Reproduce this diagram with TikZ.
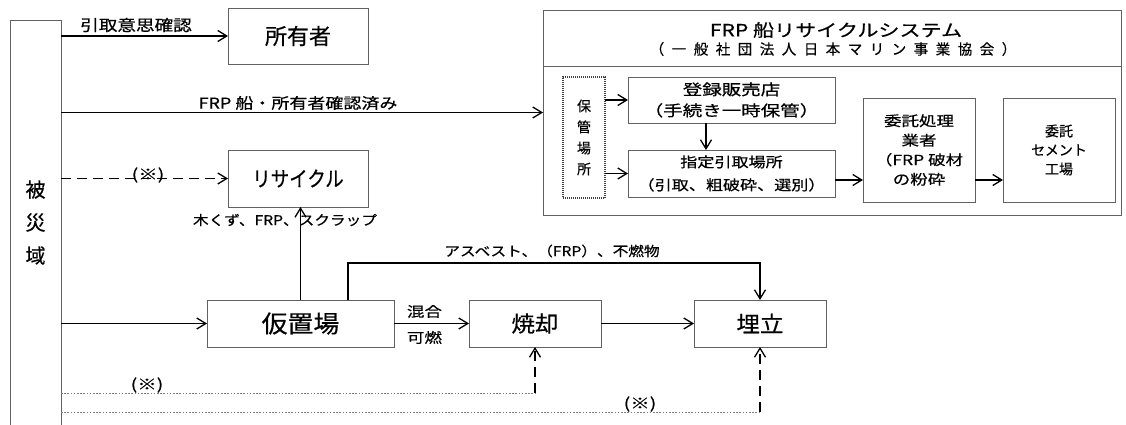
\documentclass[tikz,border=0pt]{standalone}
\usepackage{fontspec}
\usepackage{graphicx}
\newfontfamily\jp[FakeBold=0.5]{Noto Sans CJK JP}
\usetikzlibrary{arrows.meta,calc}
\newcommand\hx[2]{\scalebox{#1}[1]{#2}}
\newcommand\fs[2]{\jp\fontsize{#1}{#2}\selectfont}
\def\spaced#1{\spacedi#1\relax\kern-7.5pt}
\def\spacedi#1{\ifx#1\relax\else#1\kern7.5pt\expandafter\spacedi\fi}
\begin{document}
\begin{tikzpicture}[x=1pt,y=-1pt,
  box/.style={draw=black!62, line width=0.9pt, inner sep=0pt, outer sep=0pt, align=center},
  edge/.style={draw=black!62, line width=0.9pt},
  arr/.style={draw=black, line width=1.3pt, -{Straight Barb[length=9pt,width=11pt,line width=1.3pt]}},
  dasharr/.style={arr, dash pattern=on 10pt off 6pt},
  dotline/.style={draw=black!50, line width=0.8pt, dash pattern=on 1.6pt off 1.6pt},
  lbl/.style={inner sep=0pt, outer sep=0pt, align=center}]
\useasboundingbox (0,0) rectangle (1126,425);

% left region
\node[lbl, minimum width=51, minimum height=405, font={\fs{20}{33}}] (hisai) at (35.5,222.5) {被\\災\\域};
\draw[edge] (hisai.south west) -- (hisai.north west) -- (hisai.north east) -- (hisai.south east);

% main boxes
\node[box, minimum width=140, minimum height=56, font={\fs{22}{26}}] (owner) at (298,36) {所有者};
\node[box, minimum width=140, minimum height=57, font={\fs{21}{26}}] (recycle) at (298,178.5) {\hx{0.88}{リサイクル}};
\node[box, minimum width=187, minimum height=47, font={\fs{24}{28}}] (kari) at (300.5,323.5) {\hx{1.08}{仮置場}};
\node[box, minimum width=132, minimum height=47, font={\fs{22}{26}}] (shou) at (535,323.5) {\hx{1.07}{焼却}};
\node[box, minimum width=132, minimum height=47, font={\fs{22}{26}}] (ume) at (760,323.5) {\hx{1.07}{埋立}};

% system box
\node[box, minimum width=578, minimum height=205] (sys) at (832,112.5) {};
\coordinate (sepy) at (0,66);
\draw[edge] (sys.west |- sepy) -- (sys.east |- sepy);
\node[lbl, font={\fs{17}{20}}] (systitle) at (836,30) {\hx{1.24}{FRP 船リサイクルシステム}};
\node[lbl, font={\fs{14.5}{18}}] (syssub) at (833,49) {\spaced{（一般社団法人日本マリン事業協会）}};

\node[box, draw=black!75, dash pattern=on 1pt off 1pt, line width=1.3pt, minimum width=42, minimum height=121, font={\fs{14}{21}}] (hokan) at (584,137.5) {保\\管\\場\\所};
\node[box, minimum width=207, minimum height=46, font={\fs{15}{21}}] (touroku) at (731.5,100) {\hx{1.3}{登録販売店}\\\hx{1.3}{（手続き一時保管）}};
\node[box, minimum width=207, minimum height=47, font={\fs{14}{23}}] (shitei) at (731.5,173.5) {\hx{1.22}{指定引取場所}\\\hx{1.22}{（引取、粗破砕、選別）}};
\node[box, minimum width=112, minimum height=104, font={\fs{14}{19.5}}] (itaku) at (919,150) {\hx{1.25}{委託処理}\\\hx{1.25}{業者}\\\hx{1.25}{（FRP 破材}\\\hx{1.25}{の粉砕}};
\node[box, minimum width=112, minimum height=104, font={\fs{14}{19}}] (cement) at (1059,150) {委託\\セメント\\工場};

% connectors
\draw[arr] (hisai.east |- owner.west) -- (owner.west);
\draw[arr] (hisai.east |- sys.west) -- (sys.west);
\draw[dasharr] (hisai.east |- recycle.west) -- (recycle.west);
\draw[arr] (hisai.east |- kari.west) -- (kari.west);
\draw[arr] (kari.north) -- (kari.north |- recycle.south);
\coordinate (asb) at (348,263);
\draw[arr] (kari.north -| asb) -- (asb) -| (ume.north);
\draw[arr] (kari.east) -- (shou.west);
\draw[arr] (shou.east) -- (ume.west);
\coordinate (d1) at (535,393);
\coordinate (d2) at (760,412);
\draw[dotline] (hisai.east |- d1) -- (d1);
\draw[dasharr] (d1) -- (shou.south);
\draw[dotline] (hisai.east |- d2) -- (d2);
\draw[dasharr] (d2) -- (ume.south);

\draw[arr] (hokan.east |- touroku.west) -- (touroku.west);
\draw[arr] (hokan.east |- shitei.west) -- (shitei.west);
\draw[arr] ([xshift=-25.5pt]touroku.south) -- ([xshift=-25.5pt]shitei.north);
\coordinate (s1) at ([yshift=-6.5pt]shitei.east);
\draw[arr] (s1) -- (s1 -| itaku.west);
\coordinate (s2) at ([yshift=-30pt]itaku.east);
\draw[arr] (s2) -- (s2 -| cement.west);

% labels
\node[lbl, font={\fs{15.5}{18}}] (lab1) at (136,25) {\hx{1.2}{引取意思確認}};
\node[lbl, font={\fs{15}{18}}] (lab2) at (298,103) {\hx{1.2}{FRP 船・所有者確認済み}};
\node[lbl, font={\fs{15}{18}}] (lab3) at (148,175) {\hx{1.3}{(※)}};
\node[lbl, font={\fs{13.5}{16}}] (lab4) at (285,220) {\hx{1.16}{木くず、FRP、スクラップ}};
\node[lbl, font={\fs{13.5}{16}}] (lab5) at (552,251) {\hx{1.16}{アスベスト、（FRP）、不燃物}};
\node[lbl, font={\fs{14}{26}}] (lab6) at (424.5,324.5) {\hx{1.25}{混合}\\\hx{1.25}{可燃}};
\node[lbl, font={\fs{15}{18}}] (lab7) at (147,385) {\hx{1.3}{(※)}};
\node[lbl, font={\fs{15}{18}}] (lab8) at (640,404) {\hx{1.3}{(※)}};
\end{tikzpicture}
\end{document}
